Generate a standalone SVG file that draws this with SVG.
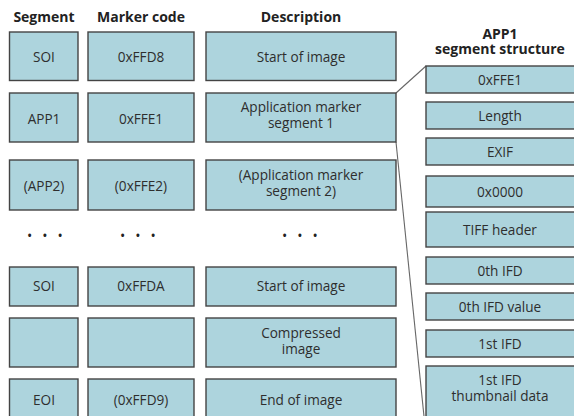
<svg xmlns="http://www.w3.org/2000/svg" width="574" height="416" viewBox="0 0 574 416">
  <style>
    .box { fill: #add4dd; stroke: #444; stroke-width: 1.4; }
    .t { font-family: "Open Sans", "Liberation Sans", sans-serif; font-size: 13.6px; fill: #2e2e2e; text-anchor: middle; }
    .h { font-family: "Open Sans", "Liberation Sans", sans-serif; font-size: 14px; font-weight: bold; fill: #222; text-anchor: middle; }
    .dots { font-family: "Open Sans", "Liberation Sans", sans-serif; font-size: 14px; fill: #222; text-anchor: middle; letter-spacing: 10px; }
    .link { stroke: #666; stroke-width: 1.1; fill: none; }
  </style>
  <rect width="574" height="416" fill="#fff"/>

  <!-- column headings -->
  <g id="headings">
    <text class="h" x="44" y="22">Segment</text>
    <text class="h" x="141" y="22">Marker code</text>
    <text class="h" x="301" y="22">Description</text>
    <text class="h" x="500" y="39">APP1</text>
    <text class="h" x="500" y="54">segment structure</text>
  </g>

  <!-- connectors: APP1 row expanded into its structure -->
  <g id="connectors">
    <line class="link" x1="396" y1="93" x2="426" y2="66"/>
    <line class="link" x1="396" y1="142" x2="426" y2="436"/>
  </g>

  <!-- row: SOI -->
  <g id="row-soi">
    <rect class="box" x="9.5" y="32" width="68.5" height="48.5"/>
    <text class="t" x="44" y="62">SOI</text>
    <rect class="box" x="88" y="32" width="106" height="48.5"/>
    <text class="t" x="141" y="62">0xFFD8</text>
    <rect class="box" x="206" y="32" width="190" height="48.5"/>
    <text class="t" x="301" y="62">Start of image</text>
  </g>

  <!-- row: APP1 -->
  <g id="row-app1">
    <rect class="box" x="9.5" y="93" width="68.5" height="49"/>
    <text class="t" x="44" y="124">APP1</text>
    <rect class="box" x="88" y="93" width="106" height="49"/>
    <text class="t" x="141" y="124">0xFFE1</text>
    <rect class="box" x="206" y="93" width="190" height="49"/>
    <text class="t" x="301" y="112">Application marker</text>
    <text class="t" x="301" y="127.5">segment 1</text>
  </g>

  <!-- row: APP2 -->
  <g id="row-app2">
    <rect class="box" x="9.5" y="160" width="68.5" height="50"/>
    <text class="t" x="44" y="191">(APP2)</text>
    <rect class="box" x="88" y="160" width="106" height="50"/>
    <text class="t" x="141" y="191">(0xFFE2)</text>
    <rect class="box" x="206" y="160" width="190" height="50"/>
    <text class="t" x="301" y="180">(Application marker</text>
    <text class="t" x="301" y="195.5">segment 2)</text>
  </g>

  <!-- row: ellipsis -->
  <g id="row-more">
    <text class="dots" x="50" y="241">•••</text>
    <text class="dots" x="143" y="241">•••</text>
    <text class="dots" x="305" y="241">•••</text>
  </g>

  <!-- row: SOS -->
  <g id="row-sos">
    <rect class="box" x="9.5" y="267" width="68.5" height="39"/>
    <text class="t" x="44" y="291">SOI</text>
    <rect class="box" x="88" y="267" width="106" height="39"/>
    <text class="t" x="141" y="291">0xFFDA</text>
    <rect class="box" x="206" y="267" width="190" height="39"/>
    <text class="t" x="301" y="291">Start of image</text>
  </g>

  <!-- row: compressed data -->
  <g id="row-data">
    <rect class="box" x="9.5" y="318" width="68.5" height="49"/>
    <rect class="box" x="88" y="318" width="106" height="49"/>
    <rect class="box" x="206" y="318" width="190" height="49"/>
    <text class="t" x="301" y="338">Compressed</text>
    <text class="t" x="301" y="353.5">image</text>
  </g>

  <!-- row: EOI -->
  <g id="row-eoi">
    <rect class="box" x="9.5" y="379" width="68.5" height="50"/>
    <text class="t" x="44" y="405">EOI</text>
    <rect class="box" x="88" y="379" width="106" height="50"/>
    <text class="t" x="141" y="405">(0xFFD9)</text>
    <rect class="box" x="206" y="379" width="190" height="50"/>
    <text class="t" x="301" y="405">End of image</text>
  </g>

  <!-- APP1 segment structure -->
  <g id="app1-marker">
    <rect class="box" x="426" y="66" width="150" height="27"/>
    <text class="t" x="500" y="84.5">0xFFE1</text>
  </g>
  <g id="app1-length">
    <rect class="box" x="426" y="102" width="150" height="27"/>
    <text class="t" x="500" y="120.5">Length</text>
  </g>
  <g id="app1-exif">
    <rect class="box" x="426" y="138" width="150" height="27"/>
    <text class="t" x="500" y="156.5">EXIF</text>
  </g>
  <g id="app1-zero">
    <rect class="box" x="426" y="176" width="150" height="31"/>
    <text class="t" x="500" y="196.5">0x0000</text>
  </g>
  <g id="app1-tiff">
    <rect class="box" x="426" y="212" width="150" height="35"/>
    <text class="t" x="500" y="234.5">TIFF header</text>
  </g>
  <g id="app1-ifd0">
    <rect class="box" x="426" y="257" width="150" height="27"/>
    <text class="t" x="500" y="275.5">0th IFD</text>
  </g>
  <g id="app1-ifd0-value">
    <rect class="box" x="426" y="293" width="150" height="27"/>
    <text class="t" x="500" y="311.5">0th IFD value</text>
  </g>
  <g id="app1-ifd1">
    <rect class="box" x="426" y="330" width="150" height="27"/>
    <text class="t" x="500" y="348.5">1st IFD</text>
  </g>
  <g id="app1-thumb">
    <rect class="box" x="426" y="366" width="150" height="60"/>
    <text class="t" x="500" y="385">1st IFD</text>
    <text class="t" x="500" y="400.5">thumbnail data</text>
  </g>
</svg>
